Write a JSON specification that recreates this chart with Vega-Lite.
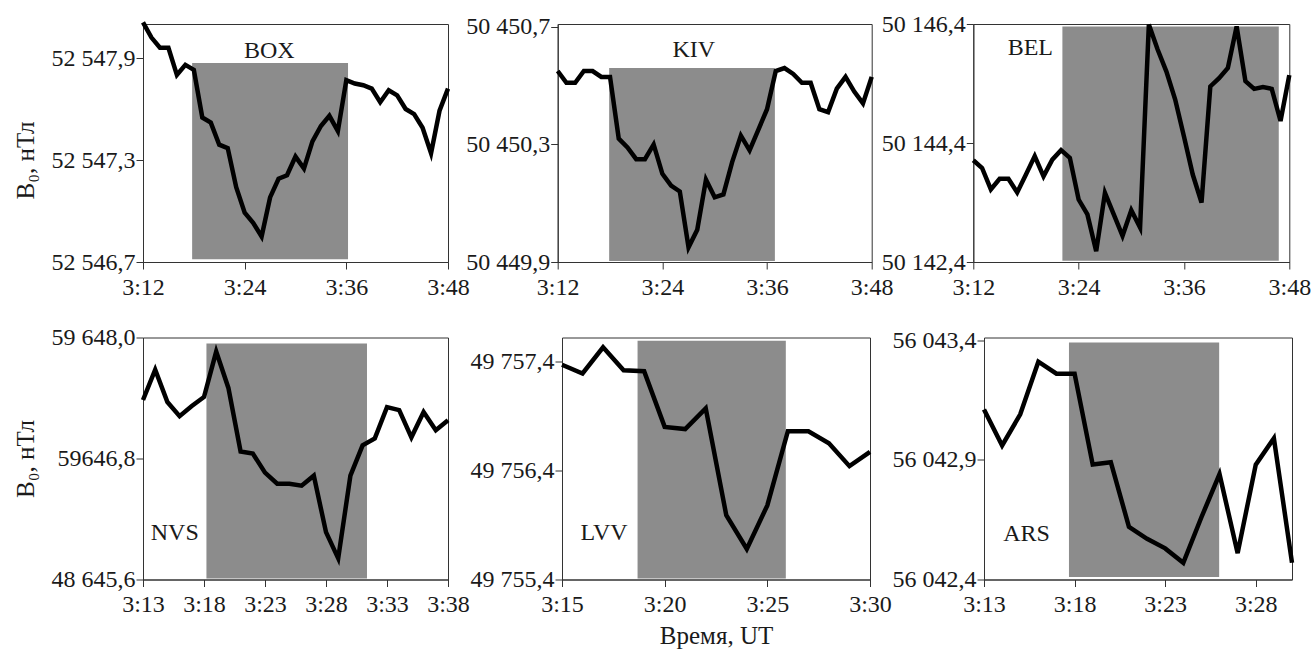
{
  "$schema": "https://vega.github.io/schema/vega-lite/v6.json",
  "padding": {"left": 12, "top": 11, "right": 0, "bottom": 0},
  "spacing": 24.5,
  "datasets": {
    "series": [
      {"s":"BOX","t":12,"v":52548.11},{"s":"BOX","t":13,"v":52548.02},{"s":"BOX","t":14,"v":52547.96},{"s":"BOX","t":15,"v":52547.96},{"s":"BOX","t":16,"v":52547.80},{"s":"BOX","t":17,"v":52547.86},{"s":"BOX","t":18,"v":52547.83},{"s":"BOX","t":19,"v":52547.55},{"s":"BOX","t":20,"v":52547.52},{"s":"BOX","t":21,"v":52547.39},{"s":"BOX","t":22,"v":52547.37},{"s":"BOX","t":23,"v":52547.14},{"s":"BOX","t":24,"v":52546.99},{"s":"BOX","t":25,"v":52546.93},{"s":"BOX","t":26,"v":52546.85},{"s":"BOX","t":27,"v":52547.08},{"s":"BOX","t":28,"v":52547.19},{"s":"BOX","t":29,"v":52547.21},{"s":"BOX","t":30,"v":52547.32},{"s":"BOX","t":31,"v":52547.25},{"s":"BOX","t":32,"v":52547.41},{"s":"BOX","t":33,"v":52547.50},{"s":"BOX","t":34,"v":52547.56},{"s":"BOX","t":35,"v":52547.47},{"s":"BOX","t":36,"v":52547.77},{"s":"BOX","t":37,"v":52547.75},{"s":"BOX","t":38,"v":52547.74},{"s":"BOX","t":39,"v":52547.72},{"s":"BOX","t":40,"v":52547.64},{"s":"BOX","t":41,"v":52547.71},{"s":"BOX","t":42,"v":52547.68},{"s":"BOX","t":43,"v":52547.60},{"s":"BOX","t":44,"v":52547.57},{"s":"BOX","t":45,"v":52547.49},{"s":"BOX","t":46,"v":52547.34},{"s":"BOX","t":47,"v":52547.59},{"s":"BOX","t":48,"v":52547.72},
      {"s":"KIV","t":12,"v":50450.55},{"s":"KIV","t":13,"v":50450.51},{"s":"KIV","t":14,"v":50450.51},{"s":"KIV","t":15,"v":50450.55},{"s":"KIV","t":16,"v":50450.55},{"s":"KIV","t":17,"v":50450.53},{"s":"KIV","t":18,"v":50450.53},{"s":"KIV","t":19,"v":50450.32},{"s":"KIV","t":20,"v":50450.29},{"s":"KIV","t":21,"v":50450.25},{"s":"KIV","t":22,"v":50450.25},{"s":"KIV","t":23,"v":50450.30},{"s":"KIV","t":24,"v":50450.20},{"s":"KIV","t":25,"v":50450.16},{"s":"KIV","t":26,"v":50450.14},{"s":"KIV","t":27,"v":50449.95},{"s":"KIV","t":28,"v":50450.01},{"s":"KIV","t":29,"v":50450.18},{"s":"KIV","t":30,"v":50450.12},{"s":"KIV","t":31,"v":50450.13},{"s":"KIV","t":32,"v":50450.24},{"s":"KIV","t":33,"v":50450.33},{"s":"KIV","t":34,"v":50450.28},{"s":"KIV","t":35,"v":50450.35},{"s":"KIV","t":36,"v":50450.42},{"s":"KIV","t":37,"v":50450.55},{"s":"KIV","t":38,"v":50450.56},{"s":"KIV","t":39,"v":50450.54},{"s":"KIV","t":40,"v":50450.51},{"s":"KIV","t":41,"v":50450.51},{"s":"KIV","t":42,"v":50450.42},{"s":"KIV","t":43,"v":50450.41},{"s":"KIV","t":44,"v":50450.49},{"s":"KIV","t":45,"v":50450.53},{"s":"KIV","t":46,"v":50450.48},{"s":"KIV","t":47,"v":50450.44},{"s":"KIV","t":48,"v":50450.53},
      {"s":"BEL","t":12,"v":50144.11},{"s":"BEL","t":13,"v":50143.98},{"s":"BEL","t":14,"v":50143.62},{"s":"BEL","t":15,"v":50143.80},{"s":"BEL","t":16,"v":50143.80},{"s":"BEL","t":17,"v":50143.57},{"s":"BEL","t":18,"v":50143.87},{"s":"BEL","t":19,"v":50144.18},{"s":"BEL","t":20,"v":50143.84},{"s":"BEL","t":21,"v":50144.12},{"s":"BEL","t":22,"v":50144.28},{"s":"BEL","t":23,"v":50144.15},{"s":"BEL","t":24,"v":50143.45},{"s":"BEL","t":25,"v":50143.20},{"s":"BEL","t":26,"v":50142.58},{"s":"BEL","t":27,"v":50143.56},{"s":"BEL","t":28,"v":50143.20},{"s":"BEL","t":29,"v":50142.84},{"s":"BEL","t":30,"v":50143.27},{"s":"BEL","t":31,"v":50142.98},{"s":"BEL","t":32,"v":50146.39},{"s":"BEL","t":33,"v":50145.97},{"s":"BEL","t":34,"v":50145.60},{"s":"BEL","t":35,"v":50145.13},{"s":"BEL","t":36,"v":50144.51},{"s":"BEL","t":37,"v":50143.87},{"s":"BEL","t":38,"v":50143.40},{"s":"BEL","t":39,"v":50145.35},{"s":"BEL","t":40,"v":50145.49},{"s":"BEL","t":41,"v":50145.66},{"s":"BEL","t":42,"v":50146.36},{"s":"BEL","t":43,"v":50145.44},{"s":"BEL","t":44,"v":50145.31},{"s":"BEL","t":45,"v":50145.34},{"s":"BEL","t":46,"v":50145.31},{"s":"BEL","t":47,"v":50144.77},{"s":"BEL","t":48,"v":50145.54},
      {"s":"NVS","t":13,"v":59647.38},{"s":"NVS","t":14,"v":59647.68},{"s":"NVS","t":15,"v":59647.36},{"s":"NVS","t":16,"v":59647.22},{"s":"NVS","t":17,"v":59647.32},{"s":"NVS","t":18,"v":59647.41},{"s":"NVS","t":19,"v":59647.86},{"s":"NVS","t":20,"v":59647.50},{"s":"NVS","t":21,"v":59646.87},{"s":"NVS","t":22,"v":59646.85},{"s":"NVS","t":23,"v":59646.66},{"s":"NVS","t":24,"v":59646.55},{"s":"NVS","t":25,"v":59646.55},{"s":"NVS","t":26,"v":59646.53},{"s":"NVS","t":27,"v":59646.63},{"s":"NVS","t":28,"v":59646.07},{"s":"NVS","t":29,"v":59645.81},{"s":"NVS","t":30,"v":59646.63},{"s":"NVS","t":31,"v":59646.93},{"s":"NVS","t":32,"v":59647.00},{"s":"NVS","t":33,"v":59647.31},{"s":"NVS","t":34,"v":59647.28},{"s":"NVS","t":35,"v":59647.01},{"s":"NVS","t":36,"v":59647.26},{"s":"NVS","t":37,"v":59647.08},{"s":"NVS","t":38,"v":59647.18},
      {"s":"LVV","t":15,"v":49757.37},{"s":"LVV","t":16,"v":49757.29},{"s":"LVV","t":17,"v":49757.53},{"s":"LVV","t":18,"v":49757.32},{"s":"LVV","t":19,"v":49757.31},{"s":"LVV","t":20,"v":49756.80},{"s":"LVV","t":21,"v":49756.78},{"s":"LVV","t":22,"v":49756.97},{"s":"LVV","t":23,"v":49755.99},{"s":"LVV","t":24,"v":49755.68},{"s":"LVV","t":25,"v":49756.08},{"s":"LVV","t":26,"v":49756.76},{"s":"LVV","t":27,"v":49756.76},{"s":"LVV","t":28,"v":49756.65},{"s":"LVV","t":29,"v":49756.44},{"s":"LVV","t":30,"v":49756.57},
      {"s":"ARS","t":13,"v":56043.11},{"s":"ARS","t":14,"v":56042.96},{"s":"ARS","t":15,"v":56043.09},{"s":"ARS","t":16,"v":56043.31},{"s":"ARS","t":17,"v":56043.26},{"s":"ARS","t":18,"v":56043.26},{"s":"ARS","t":19,"v":56042.88},{"s":"ARS","t":20,"v":56042.89},{"s":"ARS","t":21,"v":56042.62},{"s":"ARS","t":22,"v":56042.57},{"s":"ARS","t":23,"v":56042.53},{"s":"ARS","t":24,"v":56042.47},{"s":"ARS","t":25,"v":56042.66},{"s":"ARS","t":26,"v":56042.84},{"s":"ARS","t":27,"v":56042.51},{"s":"ARS","t":28,"v":56042.88},{"s":"ARS","t":29,"v":56042.99},{"s":"ARS","t":30,"v":56042.47}
    ],
    "shades": [
      {"s":"BOX","t":17.8,"t2":36.2,"v":52546.716,"v2":52547.87},
      {"s":"KIV","t":17.9,"t2":36.9,"v":50449.903,"v2":50450.56},
      {"s":"BEL","t":22.15,"t2":46.8,"v":50142.42,"v2":50146.36},
      {"s":"NVS","t":18.2,"t2":31.36,"v":59645.61,"v2":59647.94},
      {"s":"LVV","t":18.68,"t2":25.9,"v":49755.41,"v2":49757.59},
      {"s":"ARS","t":17.69,"t2":25.98,"v":56042.41,"v2":56043.39}
    ],
    "labels": [
      {"s":"BOX","t":26.9,"v":52547.94},
      {"s":"KIV","t":27.6,"v":50450.62},
      {"s":"BEL","t":18.5,"v":50146.0},
      {"s":"NVS","t":15.6,"v":59646.06},
      {"s":"LVV","t":17.05,"v":49755.83},
      {"s":"ARS","t":15.35,"v":56042.59}
    ]
  },
  "vconcat": [
    {
      "bounds": "flush",
      "spacing": 109.7,
      "hconcat": [
        {
          "width": 305, "height": 238,
          "layer": [
            {"data": {"name": "shades"}, "transform": [{"filter": "datum.s == 'BOX'"}],
             "mark": {"type": "rect", "fill": "#8c8c8c"},
             "encoding": {
               "x": {"field": "t", "type": "quantitative", "scale": {"domain": [12, 48], "nice": false, "zero": false}, "axis": {"values": [12, 24, 36, 48], "labelExpr": "'3:' + datum.value", "title": null}},
               "x2": {"field": "t2"},
               "y": {"field": "v", "type": "quantitative", "scale": {"domain": [52546.7, 52548.1], "nice": false, "zero": false}, "axis": {"values": [52546.7, 52547.3, 52547.9], "format": ",.1f", "title": "B₀, нТл", "titleY": 136}},
               "y2": {"field": "v2"}
             }},
            {"data": {"name": "series"}, "transform": [{"filter": "datum.s == 'BOX'"}],
             "mark": {"type": "line", "stroke": "#000000", "strokeWidth": 4.5, "strokeJoin": "miter"},
             "encoding": {"x": {"field": "t", "type": "quantitative"}, "y": {"field": "v", "type": "quantitative"}}},
            {"data": {"name": "labels"}, "transform": [{"filter": "datum.s == 'BOX'"}],
             "mark": {"type": "text"},
             "encoding": {"x": {"field": "t", "type": "quantitative"}, "y": {"field": "v", "type": "quantitative"}, "text": {"field": "s"}}}
          ]
        },
        {
          "bounds": "flush",
          "spacing": 101.6,
          "hconcat": [
            {
              "width": 314, "height": 238,
              "layer": [
                {"data": {"name": "shades"}, "transform": [{"filter": "datum.s == 'KIV'"}],
                 "mark": {"type": "rect", "fill": "#8c8c8c"},
                 "encoding": {
                   "x": {"field": "t", "type": "quantitative", "scale": {"domain": [12, 48], "nice": false, "zero": false}, "axis": {"values": [12, 24, 36, 48], "labelExpr": "'3:' + datum.value", "title": null}},
                   "x2": {"field": "t2"},
                   "y": {"field": "v", "type": "quantitative", "scale": {"domain": [50449.9, 50450.71], "nice": false, "zero": false}, "axis": {"values": [50449.9, 50450.3, 50450.7], "format": ",.1f", "title": null}},
                   "y2": {"field": "v2"}
                 }},
                {"data": {"name": "series"}, "transform": [{"filter": "datum.s == 'KIV'"}],
                 "mark": {"type": "line", "stroke": "#000000", "strokeWidth": 4.5, "strokeJoin": "miter"},
                 "encoding": {"x": {"field": "t", "type": "quantitative"}, "y": {"field": "v", "type": "quantitative"}}},
                {"data": {"name": "labels"}, "transform": [{"filter": "datum.s == 'KIV'"}],
                 "mark": {"type": "text"},
                 "encoding": {"x": {"field": "t", "type": "quantitative"}, "y": {"field": "v", "type": "quantitative"}, "text": {"field": "s"}}}
              ]
            },
            {
              "width": 316, "height": 238,
              "layer": [
                {"data": {"name": "shades"}, "transform": [{"filter": "datum.s == 'BEL'"}],
                 "mark": {"type": "rect", "fill": "#8c8c8c"},
                 "encoding": {
                   "x": {"field": "t", "type": "quantitative", "scale": {"domain": [12, 48], "nice": false, "zero": false}, "axis": {"values": [12, 24, 36, 48], "labelExpr": "'3:' + datum.value", "title": null}},
                   "x2": {"field": "t2"},
                   "y": {"field": "v", "type": "quantitative", "scale": {"domain": [50142.4, 50146.4], "nice": false, "zero": false}, "axis": {"values": [50142.4, 50144.4, 50146.4], "format": ",.1f", "title": null}},
                   "y2": {"field": "v2"}
                 }},
                {"data": {"name": "series"}, "transform": [{"filter": "datum.s == 'BEL'"}],
                 "mark": {"type": "line", "stroke": "#000000", "strokeWidth": 4.5, "strokeJoin": "miter"},
                 "encoding": {"x": {"field": "t", "type": "quantitative"}, "y": {"field": "v", "type": "quantitative"}}},
                {"data": {"name": "labels"}, "transform": [{"filter": "datum.s == 'BEL'"}],
                 "mark": {"type": "text"},
                 "encoding": {"x": {"field": "t", "type": "quantitative"}, "y": {"field": "v", "type": "quantitative"}, "text": {"field": "s"}}}
              ]
            }
          ]
        }
      ]
    },
    {
      "bounds": "flush",
      "spacing": 114,
      "hconcat": [
        {
          "width": 305, "height": 242,
          "layer": [
            {"data": {"name": "shades"}, "transform": [{"filter": "datum.s == 'NVS'"}],
             "mark": {"type": "rect", "fill": "#8c8c8c"},
             "encoding": {
               "x": {"field": "t", "type": "quantitative", "scale": {"domain": [13, 38], "nice": false, "zero": false}, "axis": {"values": [13, 18, 23, 28, 33, 38], "labelExpr": "'3:' + datum.value", "title": null}},
               "x2": {"field": "t2"},
               "y": {"field": "v", "type": "quantitative", "scale": {"domain": [59645.6, 59648.0], "nice": false, "zero": false}, "axis": {"values": [59645.6, 59646.8, 59648.0], "labelExpr": "datum.value > 59647.5 ? '59 648,0' : datum.value > 59646.5 ? '59646,8' : '48 645,6'", "title": "B₀, нТл"}},
               "y2": {"field": "v2"}
             }},
            {"data": {"name": "series"}, "transform": [{"filter": "datum.s == 'NVS'"}],
             "mark": {"type": "line", "stroke": "#000000", "strokeWidth": 4.5, "strokeJoin": "miter"},
             "encoding": {"x": {"field": "t", "type": "quantitative"}, "y": {"field": "v", "type": "quantitative"}}},
            {"data": {"name": "labels"}, "transform": [{"filter": "datum.s == 'NVS'"}],
             "mark": {"type": "text"},
             "encoding": {"x": {"field": "t", "type": "quantitative"}, "y": {"field": "v", "type": "quantitative"}, "text": {"field": "s"}}}
          ]
        },
        {
          "width": 308, "height": 242,
          "layer": [
            {"data": {"name": "shades"}, "transform": [{"filter": "datum.s == 'LVV'"}],
             "mark": {"type": "rect", "fill": "#8c8c8c"},
             "encoding": {
               "x": {"field": "t", "type": "quantitative", "scale": {"domain": [15, 30], "nice": false, "zero": false}, "axis": {"values": [15, 20, 25, 30], "labelExpr": "'3:' + datum.value", "title": "Время, UT", "titlePadding": 7}},
               "x2": {"field": "t2"},
               "y": {"field": "v", "type": "quantitative", "scale": {"domain": [49755.4, 49757.62], "nice": false, "zero": false}, "axis": {"values": [49755.4, 49756.4, 49757.4], "format": ",.1f", "title": null}},
               "y2": {"field": "v2"}
             }},
            {"data": {"name": "series"}, "transform": [{"filter": "datum.s == 'LVV'"}],
             "mark": {"type": "line", "stroke": "#000000", "strokeWidth": 4.5, "strokeJoin": "miter"},
             "encoding": {"x": {"field": "t", "type": "quantitative"}, "y": {"field": "v", "type": "quantitative"}}},
            {"data": {"name": "labels"}, "transform": [{"filter": "datum.s == 'LVV'"}],
             "mark": {"type": "text"},
             "encoding": {"x": {"field": "t", "type": "quantitative"}, "y": {"field": "v", "type": "quantitative"}, "text": {"field": "s"}}}
          ]
        },
        {
          "width": 308, "height": 242,
          "layer": [
            {"data": {"name": "shades"}, "transform": [{"filter": "datum.s == 'ARS'"}],
             "mark": {"type": "rect", "fill": "#8c8c8c"},
             "encoding": {
               "x": {"field": "t", "type": "quantitative", "scale": {"domain": [13, 30], "nice": false, "zero": false}, "axis": {"values": [13, 18, 23, 28], "labelExpr": "'3:' + datum.value", "title": null}},
               "x2": {"field": "t2"},
               "y": {"field": "v", "type": "quantitative", "scale": {"domain": [56042.4, 56043.411], "nice": false, "zero": false}, "axis": {"values": [56042.4, 56042.9, 56043.4], "format": ",.1f", "title": null}},
               "y2": {"field": "v2"}
             }},
            {"data": {"name": "series"}, "transform": [{"filter": "datum.s == 'ARS'"}],
             "mark": {"type": "line", "stroke": "#000000", "strokeWidth": 4.5, "strokeJoin": "miter"},
             "encoding": {"x": {"field": "t", "type": "quantitative"}, "y": {"field": "v", "type": "quantitative"}}},
            {"data": {"name": "labels"}, "transform": [{"filter": "datum.s == 'ARS'"}],
             "mark": {"type": "text"},
             "encoding": {"x": {"field": "t", "type": "quantitative"}, "y": {"field": "v", "type": "quantitative"}, "text": {"field": "s"}}}
          ]
        }
      ]
    }
  ],
  "config": {
    "font": "Liberation Serif",
    "background": "#ffffff",
    "locale": {"number": {"decimal": ",", "thousands": " ", "grouping": [3], "currency": ["", ""]}},
    "view": {"stroke": "#333333", "strokeWidth": 1},
    "axis": {
      "labelFont": "Liberation Serif", "labelFontSize": 24, "labelColor": "#1a1a1a",
      "titleFont": "Liberation Serif", "titleFontSize": 25, "titleFontWeight": "normal", "titleColor": "#1a1a1a",
      "domainColor": "#333333", "tickColor": "#333333", "tickSize": 7, "grid": false,
      "labelFlush": false, "labelOverlap": false
    },
    "axisX": {"labelPadding": 6, "titlePadding": 10},
    "axisY": {"labelPadding": 1, "minExtent": 97, "maxExtent": 97, "titlePadding": 13, "titleBaseline": "alphabetic"},
    "text": {"font": "Liberation Serif", "fontSize": 24, "color": "#1a1a1a"}
  }
}
